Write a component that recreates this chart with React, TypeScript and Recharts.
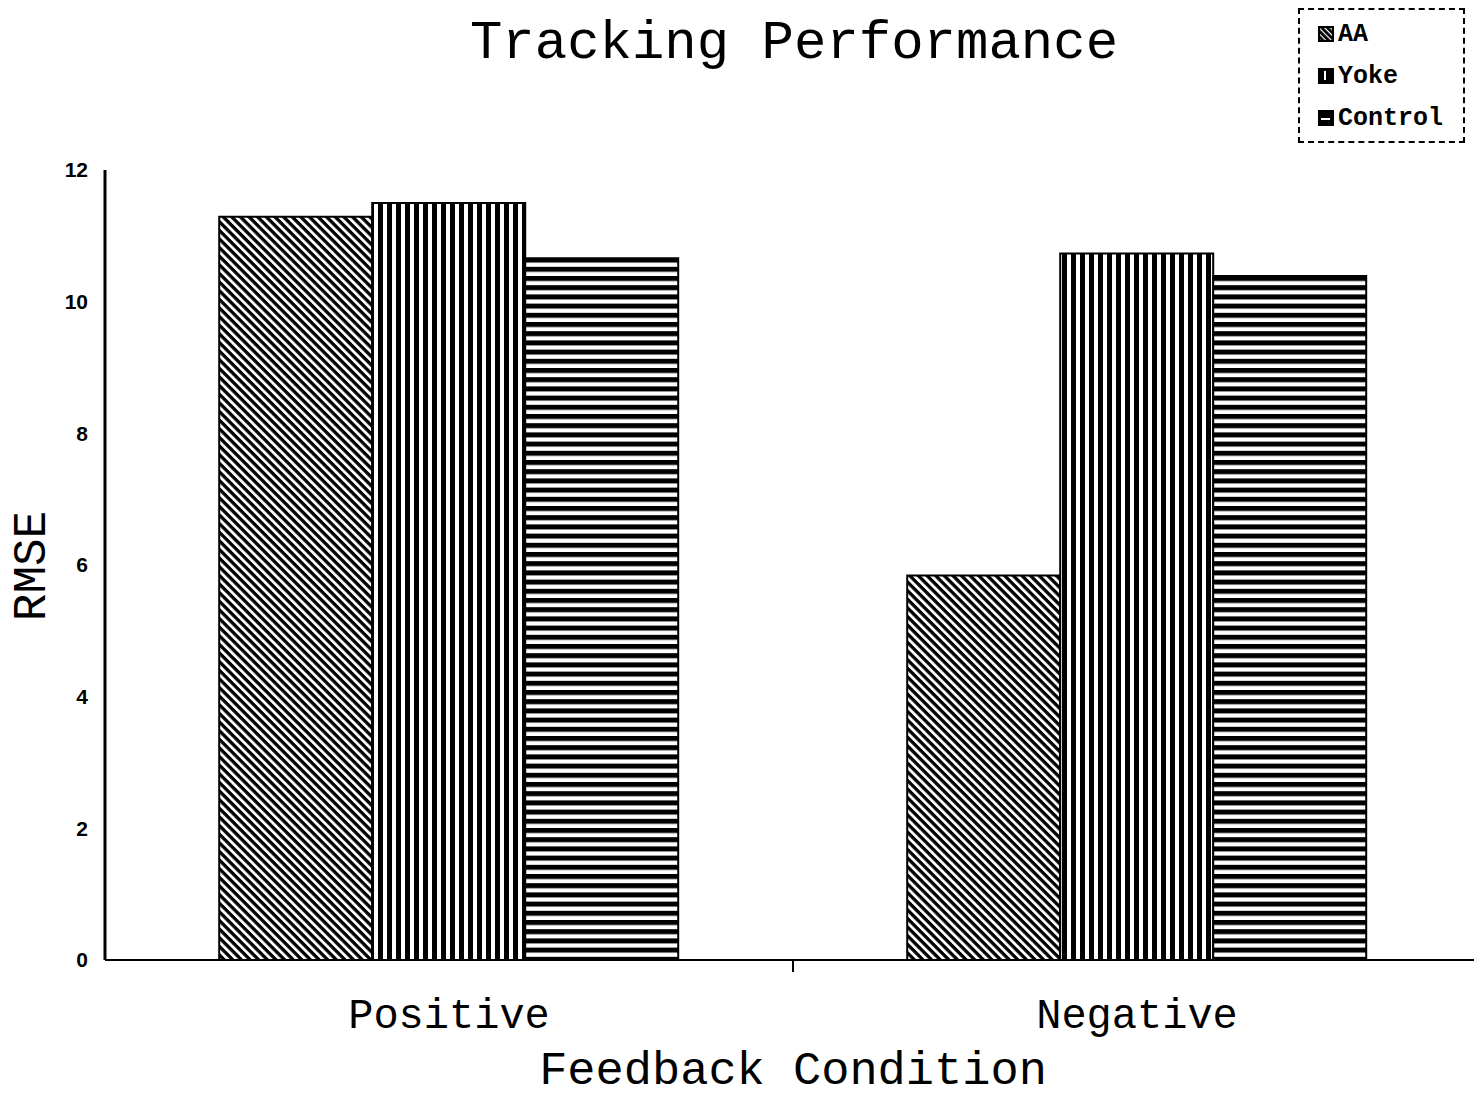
import React from 'react';
import { BarChart, Bar, XAxis, YAxis } from 'recharts';

const conditions = ['Positive', 'Negative'];
const aaValues = [11.29, 5.84];
const yokeValues = [11.5, 10.73];
const controlValues = [10.66, 10.39];
const yTicks = [0, 2, 4, 6, 8, 10, 12];

const SERIES = [
  { key: 'aa', name: 'AA', fill: 'url(#pat-diag)', icon: 'url(#ico-diag)' },
  { key: 'yoke', name: 'Yoke', fill: 'url(#pat-vert)', icon: 'url(#ico-vert)' },
  { key: 'control', name: 'Control', fill: 'url(#pat-horz)', icon: 'url(#ico-horz)' },
];

const data = conditions.map((c, i) => ({
  name: c,
  aa: aaValues[i],
  yoke: yokeValues[i],
  control: controlValues[i],
}));

const MONO = '"Liberation Mono", "Courier New", monospace';

function CategoryTick({ x, y, payload, index }: any) {
  return (
    <g>
      <text x={x} y={y + 60} textAnchor="middle" fontFamily={MONO} fontSize={42} fill="#000">
        {payload.value}
      </text>
      {index === 0 && (
        <line x1={x + payload.offset} x2={x + payload.offset} y1={y - 8} y2={y + 4} stroke="#000" strokeWidth={2} />
      )}
    </g>
  );
}

// legend drawn as plain html so it doesn't eat into the plot area
function LegendBox() {
  return (
    <div style={{ position: 'absolute', left: 1298, top: 8, border: '2px dashed #000', width: 167, height: 135, boxSizing: 'border-box', padding: '3px 0 0 18px' }}>
      {SERIES.map((s) => (
        <div key={s.key} style={{ display: 'flex', alignItems: 'center', height: 42 }}>
          <svg width={16} height={16} style={{ marginRight: 4 }}>
            <rect x={1} y={1} width={14} height={14} fill={s.icon} stroke="#000" strokeWidth={2} />
          </svg>
          <span style={{ fontFamily: MONO, fontWeight: 'bold', fontSize: 25, color: '#000' }}>{s.name}</span>
        </div>
      ))}
    </div>
  );
}

export default function App() {
  return (
    <div style={{ position: 'absolute', left: 0, top: 0, width: 1474, height: 1098, overflow: 'hidden', background: '#fff' }}>
      <div style={{ position: 'absolute', left: 0, top: 17, width: 1588, textAlign: 'center', fontFamily: MONO, fontSize: 54, color: '#000', lineHeight: 1 }}>
        Tracking Performance
      </div>
      <div
        style={{
          position: 'absolute', left: 33, top: 566, transform: 'translate(-50%, -50%) rotate(-90deg)',
          fontFamily: MONO, fontSize: 46, color: '#000', lineHeight: 1, whiteSpace: 'nowrap',
        }}
      >
        RMSE
      </div>
      <LegendBox />
      <BarChart
        width={1490}
        height={1098}
        data={data}
        margin={{ top: 170, right: 9, left: 0, bottom: 0 }}
        barCategoryGap="16.6%"
        barGap={0}
      >
        <defs>
          <pattern id="pat-diag" patternUnits="userSpaceOnUse" width={6.1} height={6.1} patternTransform="rotate(45)">
            <rect width={6.1} height={6.1} fill="#fff" />
            <rect width={6.1} height={3.3} fill="#000" />
          </pattern>
          <pattern id="pat-vert" patternUnits="userSpaceOnUse" width={9} height={9}>
            <rect width={9} height={9} fill="#fff" />
            <rect width={5} height={9} fill="#000" />
          </pattern>
          <pattern id="pat-horz" patternUnits="userSpaceOnUse" width={9.2} height={9.2}>
            <rect width={9.2} height={9.2} fill="#fff" />
            <rect width={9.2} height={5} fill="#000" />
          </pattern>
          <pattern id="ico-diag" patternUnits="userSpaceOnUse" width={4} height={4} patternTransform="rotate(45)">
            <rect width={4} height={4} fill="#000" />
            <rect width={4} height={1.2} fill="#fff" />
          </pattern>
          <pattern id="ico-vert" patternUnits="userSpaceOnUse" width={14} height={14}>
            <rect width={14} height={14} fill="#000" />
            <rect x={6} y={3} width={2} height={9} fill="#fff" />
          </pattern>
          <pattern id="ico-horz" patternUnits="userSpaceOnUse" width={14} height={14}>
            <rect width={14} height={14} fill="#000" />
            <rect x={3} y={8} width={9} height={2} fill="#fff" />
          </pattern>
        </defs>
        <XAxis
          xAxisId="top"
          orientation="top"
          dataKey="name"
          height={0}
          tick={false}
          tickLine={false}
          axisLine={{ stroke: '#000', strokeWidth: 2 }}
        />
        <XAxis
          dataKey="name"
          height={138}
          tickLine={false}
          axisLine={{ stroke: '#000', strokeWidth: 2 }}
          tick={<CategoryTick />}
          label={{ value: 'Feedback Condition', position: 'insideBottom', offset: 14, fontFamily: MONO, fontSize: 47, fill: '#000' }}
        />
        <YAxis
          width={105}
          domain={[0, 12]}
          ticks={yTicks}
          interval={0}
          tickLine={false}
          tickMargin={11}
          axisLine={{ stroke: '#000', strokeWidth: 3 }}
          tick={{ fontFamily: '"Liberation Sans", Arial, sans-serif', fontWeight: 'bold', fontSize: 21, fill: '#000' }}
        />
        {SERIES.map((s) => (
          <Bar
            key={s.key}
            xAxisId={0}
            dataKey={s.key}
            name={s.name}
            fill={s.fill}
            stroke="#000"
            strokeWidth={2}
            isAnimationActive={false}
          />
        ))}
      </BarChart>
    </div>
  );
}
